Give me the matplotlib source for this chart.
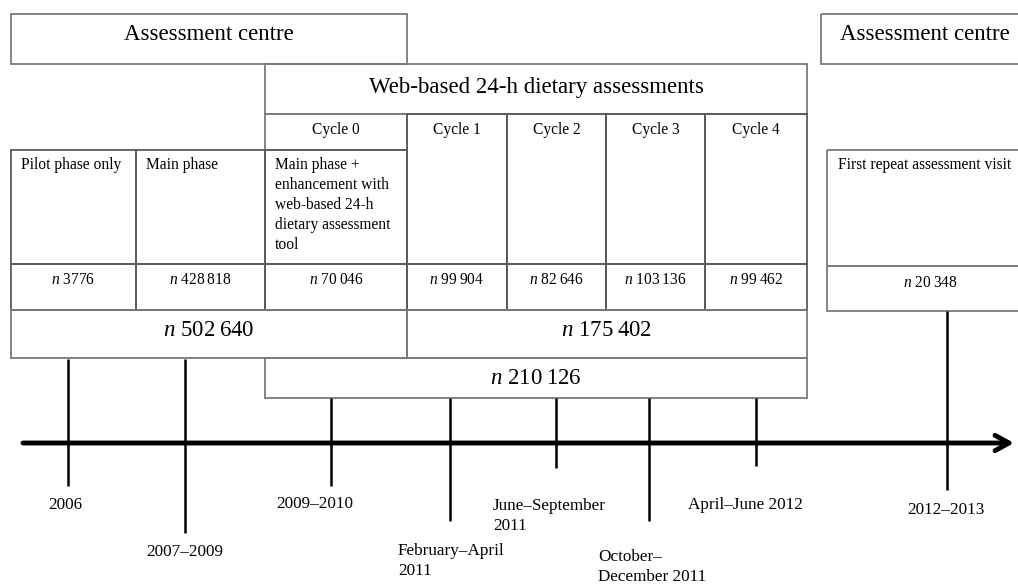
import matplotlib.pyplot as plt
from matplotlib.patches import Rectangle

plt.rcParams['font.family'] = ['Liberation Serif', 'DejaVu Serif']
plt.rcParams['mathtext.fontset'] = 'custom'
plt.rcParams['mathtext.rm'] = 'Liberation Serif'
plt.rcParams['mathtext.it'] = 'Liberation Serif:italic'

# Content of the diagram
centre_title = 'Assessment centre'
web_title = 'Web-based 24-h dietary assessments'
cycles = ['Cycle 0', 'Cycle 1', 'Cycle 2', 'Cycle 3', 'Cycle 4']
phases = ['Pilot phase only', 'Main phase',
          'Main phase +\nenhancement with\nweb-based 24-h\ndietary assessment\ntool']
phase_n = ['3776', '428\u2009818', '70\u2009046']
cycle_n = ['99\u2009904', '82\u2009646', '103\u2009136', '99\u2009462']
repeat_title = 'First repeat assessment visit'
repeat_n = '20\u2009348'
total_centre = '502\u2009640'
total_cycles = '175\u2009402'
total_web = '210\u2009126'
dates = ['2006', '2007\u20132009', '2009\u20132010', 'February\u2013April\n2011',
         'June\u2013September\n2011', 'October\u2013\nDecember 2011',
         'April\u2013June 2012', '2012\u20132013']

# Layout (pixel coordinates)
col_x = [11, 136, 265, 407, 507, 606, 705, 807]
tick_x = [68, 185, 331, 450, 556, 649, 756, 947]
tick_top = [359, 359, 398, 398, 398, 398, 398, 311]
tick_bot = [486, 533, 486, 521, 468, 521, 466, 490]
label_x = [48, 146, 276, 398, 493, 598, 688, 907]
label_y = [505, 552, 504, 561, 516, 567, 505, 510]
axis_y = 443

edge = '#7a7a7a'
small = 11.2
big = 16.5
lab = 12.3


def nlab(v):
    return r'$\mathit{n}$ ' + v


fig = plt.figure(figsize=(10.18, 5.85), dpi=100)
ax = fig.add_axes([0, 0, 1, 1])
ax.set_xlim(0, 1018)
ax.set_ylim(585, 0)
ax.axis('off')


def box(x0, y0, x1, y1, ec=edge, lw=1.3):
    ax.add_patch(Rectangle((x0, y0), x1 - x0, y1 - y0, fill=False,
                           ec=ec, lw=lw, clip_on=True))


# assessment centre (left) and web-based header
box(11, 14, 407, 64)
ax.text(209, 34, centre_title, fontsize=big, ha='center', va='center')
box(265, 64, 807, 114)
ax.text(536, 87, web_title, fontsize=big, ha='center', va='center')

# cycle headers
box(265, 114, 407, 150)
ax.text(336, 130, cycles[0], fontsize=small, ha='center', va='center')
for i in range(4):
    x0, x1 = col_x[3 + i], col_x[4 + i]
    box(x0, 114, x1, 264, ec='#5a5a5a')
    ax.text((x0 + x1) / 2, 130, cycles[i + 1], fontsize=small, ha='center', va='center')
    box(x0, 264, x1, 310, ec='#5a5a5a')
    ax.text((x0 + x1) / 2, 280, nlab(cycle_n[i]), fontsize=small, ha='center', va='center')

# phase columns
for i in range(3):
    x0, x1 = col_x[i], col_x[i + 1]
    box(x0, 150, x1, 264, ec='#5a5a5a')
    ax.text(x0 + 10, 157, phases[i], fontsize=small, ha='left', va='top', linespacing=1.33)
    box(x0, 264, x1, 310, ec='#5a5a5a')
    ax.text((x0 + x1) / 2, 280, nlab(phase_n[i]), fontsize=small, ha='center', va='center')

# totals
box(11, 310, 407, 358)
ax.text(209, 330, nlab(total_centre), fontsize=big, ha='center', va='center')
box(407, 310, 807, 358)
ax.text(607, 330, nlab(total_cycles), fontsize=big, ha='center', va='center')
box(265, 358, 807, 398)
ax.text(536, 378, nlab(total_web), fontsize=big, ha='center', va='center')

# right-hand assessment centre
box(821, 14, 1030, 64)
ax.text(925, 34, centre_title, fontsize=big, ha='center', va='center')
box(827, 150, 1030, 266)
ax.text(838, 157, repeat_title, fontsize=small, ha='left', va='top')
box(827, 266, 1030, 311)
ax.text(930, 283, nlab(repeat_n), fontsize=small, ha='center', va='center')

# timeline
ax.annotate('', xy=(1014, axis_y), xytext=(23, axis_y),
            arrowprops=dict(arrowstyle='->,head_length=1.0,head_width=0.55',
                            lw=3.5, color='black', shrinkA=0, shrinkB=0))
ax.vlines(tick_x, tick_top, tick_bot, color='black', lw=1.8)
for x, y, t in zip(label_x, label_y, dates):
    ax.text(x, y, t, fontsize=lab, ha='left', va='center', linespacing=1.3)

fig.savefig('out.png', dpi=100)
